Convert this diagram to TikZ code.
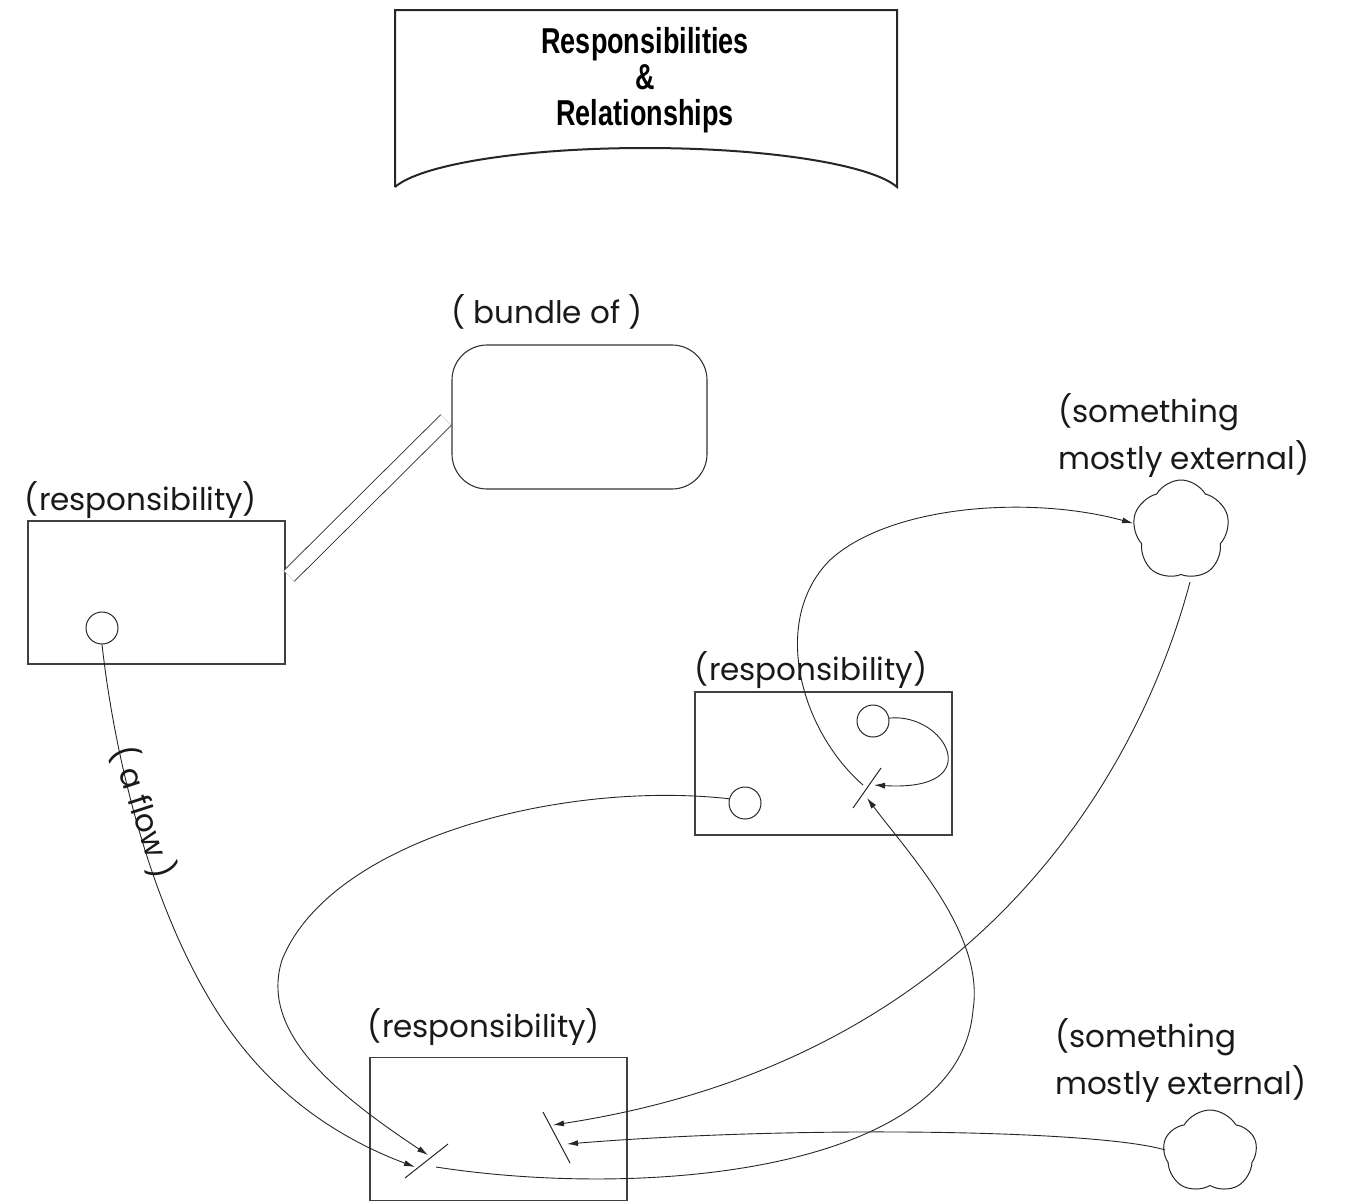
\documentclass[tikz,border=0pt]{standalone}
\usepackage{fontspec}
\setmainfont{Poppins}
\newfontfamily\bannerfont[FakeStretch=0.75]{Liberation Sans}
\usetikzlibrary{arrows.meta,shapes.symbols}

\begin{document}
\begin{tikzpicture}[x=1pt,y=-1pt,
  respbox/.style={draw=black!75, line width=1.2pt, minimum width=257pt, minimum height=143pt, inner sep=0pt},
  port/.style={circle, draw=black!85, line width=1pt, minimum size=32pt, inner sep=0pt},
  tag/.style={font=\fontsize{31}{36}\selectfont, text=black!90, inner sep=0pt},
  flow/.style={draw=black!85, line width=0.9pt},
  flowto/.style={flow, -{Latex[length=11pt,width=6pt]}},
  valve/.style={draw=black!85, line width=1pt},
  extern/.style={cloud, cloud puffs=5, cloud puff arc=120, aspect=1, draw=black!85, line width=1pt, inner sep=0pt},
  bond/.style={draw=black!80, line width=0.9pt, double, double distance=14pt},
]
\useasboundingbox (0,0) rectangle (1346,1203);

% title banner
\draw[line width=2pt, black!85] (395,187) -- (395,10) -- (897,10) -- (897,187)
  .. controls (872,165) and (770,148) .. (645,148)
  .. controls (520,148) and (420,165) .. (395,187);
\node[font=\bannerfont\bfseries\fontsize{36}{36}\selectfont, align=center, inner sep=0pt]
  (title) at (645,80) {Responsibilities\\\&\\Relationships};

% bundle
\node[tag, anchor=base] (bundletag) at (547,323) {( bundle of )};
\node[draw=black!80, line width=1.1pt, rounded corners=35pt, minimum width=255pt, minimum height=144pt] (bundle) at (579.5,417) {};

% responsibilities
\node[respbox] (lbox) at (156.5,592.5) {};
\node[tag, anchor=base] (ltag) at (141,510) {(responsibility)};
\node[respbox] (mbox) at (823.5,763.5) {};
\node[tag, anchor=base] (mtag) at (811,680) {(responsibility)};
\node[respbox] (bbox) at (498.5,1129) {};
\node[tag, anchor=base] (btag) at (484,1037) {(responsibility)};

% ports
\node[port] (lcirc) at (102,628) {};
\node[port] (mcircA) at (873,721) {};
\node[port] (mcircB) at (745,803) {};

% externals
\node[extern, minimum width=97pt, minimum height=100pt] (ucloud) at (1181,530) {};
\node[tag, anchor=base west] (utag1) at (1058,422) {(something};
\node[tag, anchor=base west] (utag2) at (1058,469) {mostly external)};
\node[extern, minimum width=94pt, minimum height=84pt] (lcloud) at (1210,1152) {};
\node[tag, anchor=base west] (ltag1) at (1055,1047) {(something};
\node[tag, anchor=base west] (ltag2) at (1055,1094) {mostly external)};

% bundle link
\coordinate (bondA) at (289,576);
\coordinate (bondB) at (446,420);
\draw[bond] (bondA) -- (bondB);

% valves
\coordinate (vmA) at (853,808); \coordinate (vmB) at (881,768);
\draw[valve] (vmA) -- (vmB);
\coordinate (vlA) at (405,1178); \coordinate (vlB) at (448,1144);
\draw[valve] (vlA) -- (vlB);
\coordinate (vrA) at (543,1112); \coordinate (vrB) at (570,1163);
\draw[valve] (vrA) -- (vrB);

% points where flows meet the valves
\coordinate (inL1) at (428,1155);
\coordinate (inL2) at (415,1167);
\coordinate (outL) at (436,1167);
\coordinate (inR1) at (553,1125);
\coordinate (inR2) at (567,1144);
\coordinate (inM1) at (874,785);
\coordinate (inM2) at (867,798);
\coordinate (outM) at (863,785);

% a flow
\draw[flowto] (lcirc.south) .. controls (115,760) and (150,900) .. (210,1000)
  .. controls (260,1085) and (330,1135) .. (inL2);
\node[tag, rotate=-72] (flowtag) at (144,812) {( a flow )};

% loop from the lower port of the middle box
\draw[flowto] (mcircB.165) .. controls (560,780) and (330,840) .. (282,960)
  .. controls (260,1030) and (330,1090) .. (inL1);

% from the left valve back up to the middle valve
\draw[flowto] (outL) .. controls (650,1200) and (960,1170) .. (973,1010)
  .. controls (985,935) and (910,855) .. (inM2);

% from the middle valve out to the upper external
\draw[flowto] (outM) .. controls (800,730) and (770,620) .. (830,560)
  .. controls (890,505) and (1030,495) .. (ucloud.172);

% from the upper port round to the middle valve
\draw[flowto] (mcircA.10) .. controls (945,712) and (990,792) .. (inM1);

% from the upper external down to the right valve
\draw[flowto] ([shift={(9,7)}]ucloud.south) .. controls (1140,770) and (980,1060) .. (inR1);

% from the lower external to the right valve
\draw[flowto] ([shift={(2,-2)}]lcloud.west) .. controls (1100,1130) and (800,1125) .. (inR2);

\end{tikzpicture}
\end{document}
